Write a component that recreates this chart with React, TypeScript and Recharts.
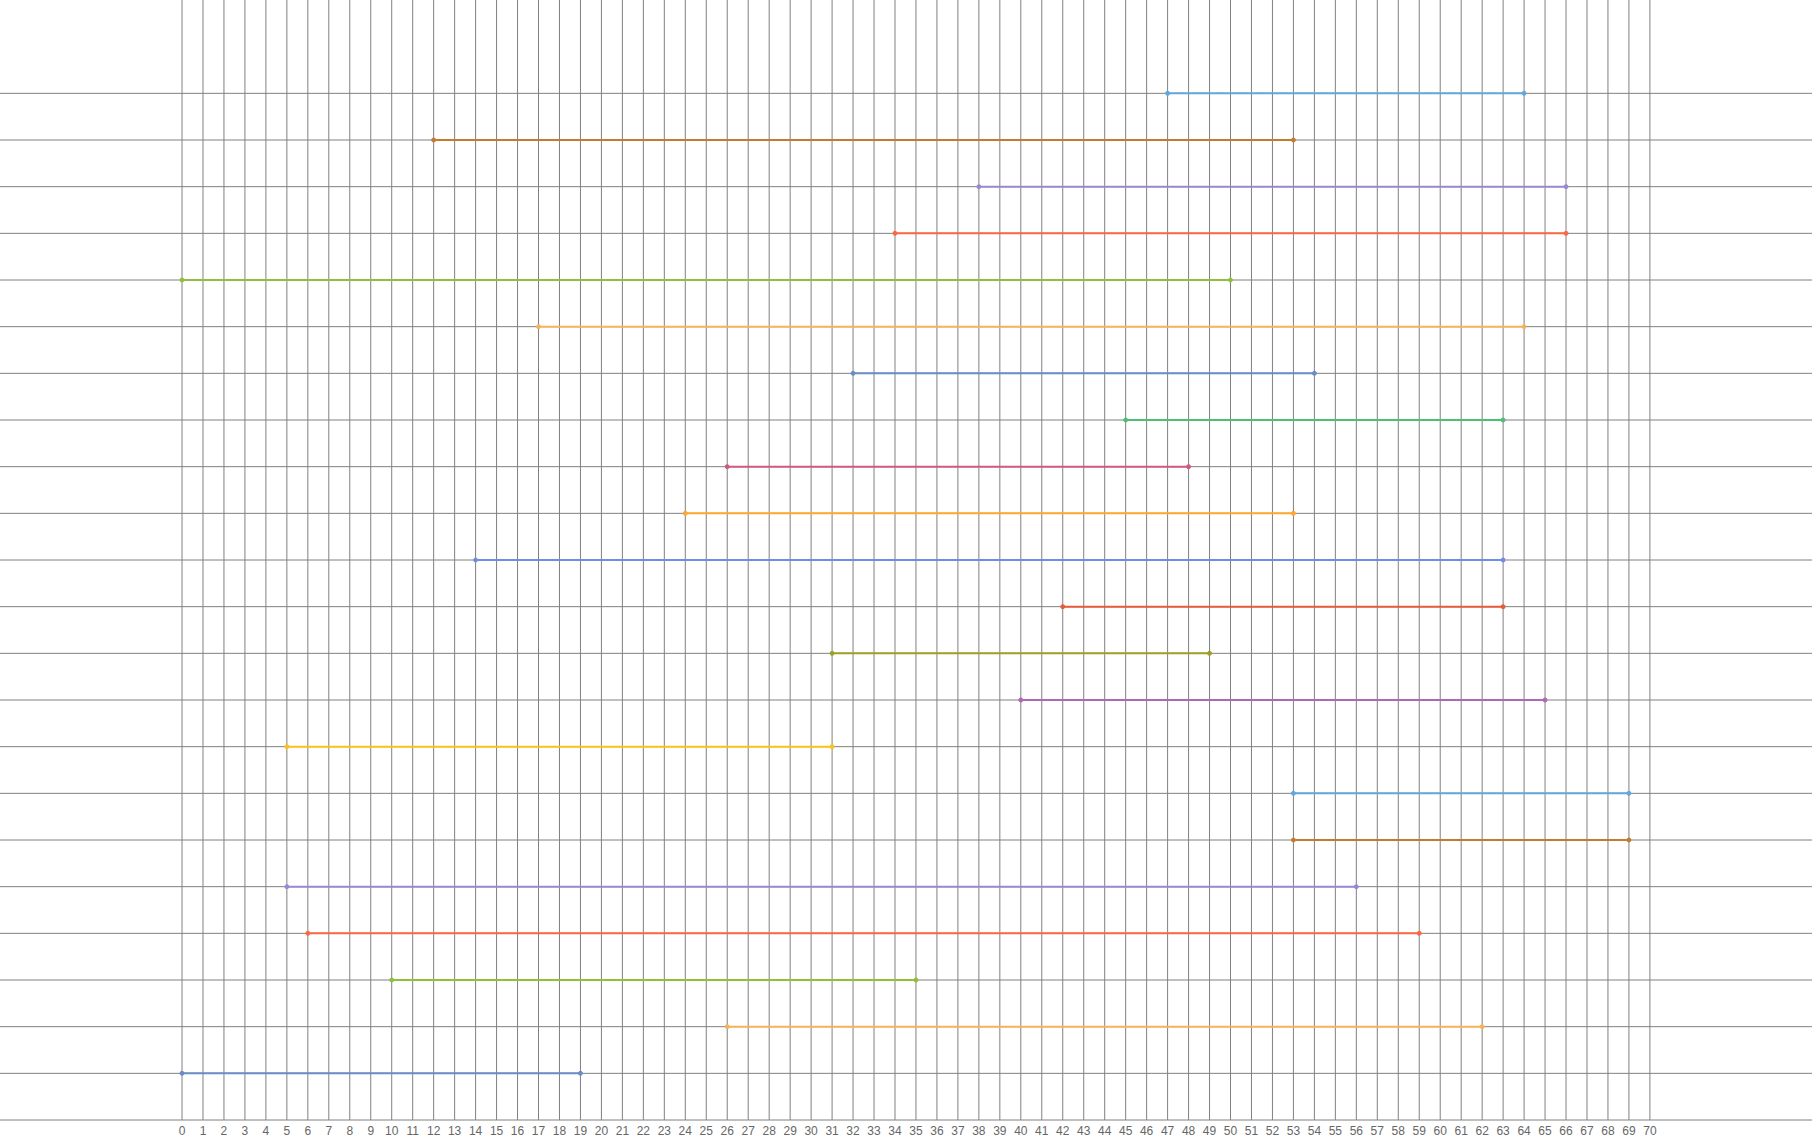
import { LineChart, Line, XAxis, YAxis, CartesianGrid } from 'recharts';

// one row per task, listed top to bottom
const rows = [22, 21, 20, 19, 18, 17, 16, 15, 14, 13, 12, 11, 10, 9, 8, 7, 6, 5, 4, 3, 2, 1];
const starts = [47, 12, 38, 34, 0, 17, 32, 45, 26, 24, 14, 42, 31, 40, 5, 53, 53, 5, 6, 10, 26, 0];
const ends = [64, 53, 66, 66, 50, 64, 54, 63, 48, 53, 63, 63, 49, 65, 31, 69, 69, 56, 59, 35, 62, 19];

const palette = [
  '#62a8db',
  '#c47a30',
  '#9a88d0',
  '#fa6840',
  '#8fbf3c',
  '#f4b45c',
  '#6a8cc7',
  '#4cbf72',
  '#cf5a80',
  '#ffa82c',
  '#6e8ee8',
  '#e85a3c',
  '#9ea126',
  '#b066b6',
  '#fdc21a',
];

const xTicks = Array.from({ length: 71 }, (_, i) => i);
const yTicks = rows.slice().reverse();

const series = rows.map((row, i) => ({
  key: `task${i + 1}`,
  color: palette[i % palette.length],
  points: [
    { x: starts[i], y: row },
    { x: ends[i], y: row },
  ],
}));

export default function App() {
  return (
    <div style={{ width: 1812, height: 1138 }}>
      <style>{'body{margin:0}'}</style>
      <LineChart
        width={1812}
        height={1138}
        margin={{ top: 0, right: 0, bottom: 0, left: 0 }}
      >
        <CartesianGrid stroke="#808080" strokeWidth={1} syncWithTicks />
        <XAxis
          type="number"
          dataKey="x"
          domain={[-8.68, 77.73]}
          allowDataOverflow
          ticks={xTicks}
          interval={0}
          height={18}
          tickLine={false}
          tickSize={6}
          tickMargin={0}
          axisLine={{ stroke: '#808080' }}
          tick={{ fill: '#666', fontSize: 12, fontFamily: 'Liberation Sans, Arial, sans-serif' }}
        />
        <YAxis type="number" dataKey="y" domain={[0, 24]} ticks={yTicks} hide width={0} />
        {series.map((s) => (
          <Line
            key={s.key}
            data={s.points}
            dataKey="y"
            stroke={s.color}
            strokeWidth={2}
            dot={{ r: 2, fill: s.color, stroke: s.color, strokeWidth: 1 }}
            activeDot={false}
            isAnimationActive={false}
          />
        ))}
      </LineChart>
    </div>
  );
}
